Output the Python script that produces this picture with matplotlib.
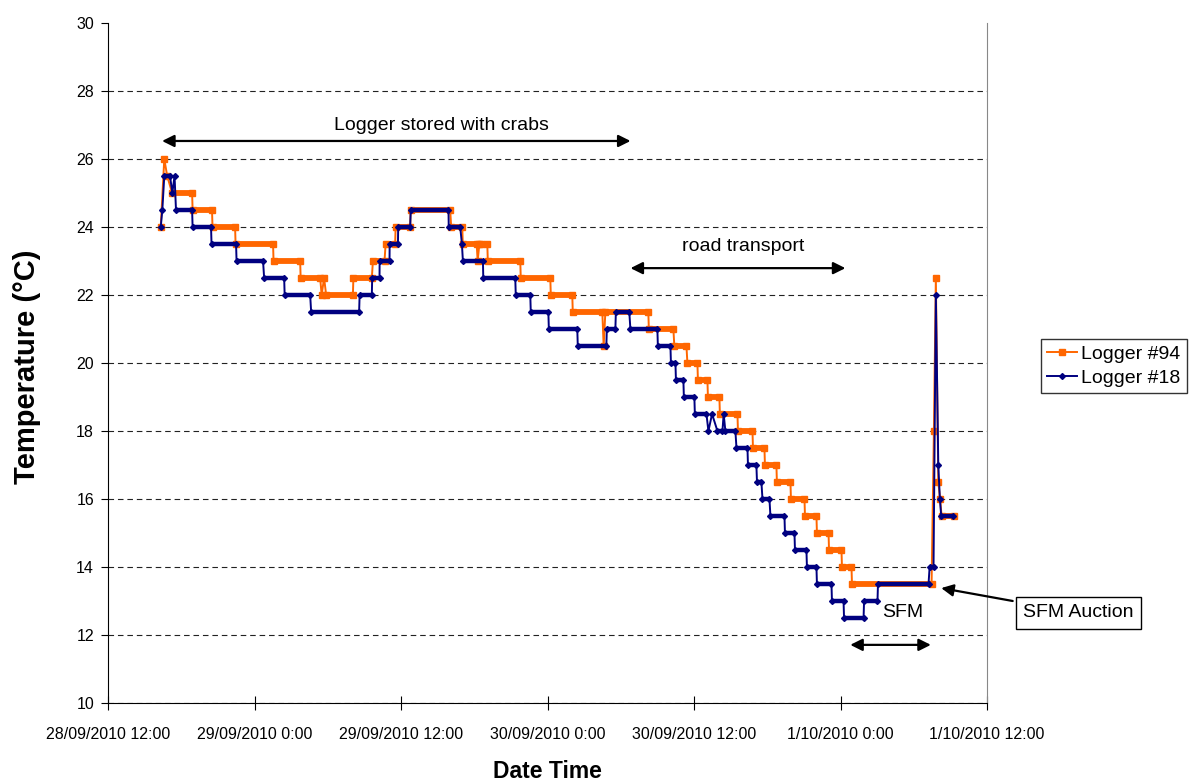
import matplotlib.pyplot as plt

plt.rcParams['font.family'] = ['Liberation Sans', 'DejaVu Sans']

# hours after 28/09/2010 12:00 (start, end, value)
o_start = [4.32, 4.61, 4.85, 5.25, 6.93, 8.56, 10.45, 13.56, 15.78, 17.50, 17.70, 17.87,
           20.10, 21.70, 22.74, 23.56, 24.79, 28.11, 29.06, 30.28, 30.42, 30.56, 31.11,
           33.81, 36.27, 38.07, 40.60, 40.74, 44.30, 46.39, 47.46, 48.32, 49.14, 50.12,
           51.60, 52.83, 53.81, 54.79, 55.94, 57.09, 58.07, 59.06, 60.12, 60.94, 67.65,
           67.81, 68.01, 68.16, 68.28]
o_end = [4.32, 4.61, 4.85, 6.89, 8.52, 10.41, 13.52, 15.74, 17.38, 17.50, 17.70, 20.06,
         21.61, 22.65, 23.52, 24.75, 28.03, 29.02, 30.20, 30.28, 30.42, 31.07, 33.77,
         36.23, 38.03, 40.49, 40.60, 44.26, 46.31, 47.38, 48.28, 49.10, 50.08, 51.56,
         52.79, 53.77, 54.75, 55.90, 57.05, 58.03, 59.02, 60.08, 60.90, 67.46, 67.65,
         67.81, 68.01, 68.16, 69.26]
o_val = [24, 26, 25.5, 25, 24.5, 24, 23.5, 23, 22.5, 22, 22.5, 22, 22.5, 23, 23.5, 24,
         24.5, 24, 23.5, 23, 23.5, 23.5, 23, 22.5, 22, 21.5, 20.5, 21.5, 21, 20.5, 20,
         19.5, 19, 18.5, 18, 17.5, 17, 16.5, 16, 15.5, 15, 14.5, 14, 13.5, 18, 22.5, 16.5,
         16, 15.5]

b_start = [4.32, 4.45, 4.61, 5.27, 5.45, 5.57, 6.93, 8.48, 10.53, 12.79, 14.47, 16.64,
           20.61, 21.64, 22.25, 23.07, 23.77, 24.80, 27.91, 28.99, 29.07, 30.74, 33.40,
           34.63, 36.11, 38.48, 40.86, 41.60, 42.79, 45.04, 46.11, 46.52, 47.17, 48.07,
           49.18, 49.48, 49.92, 50.43, 50.57, 51.48, 52.42, 53.16, 53.61, 54.26, 55.45,
           56.27, 57.25, 58.07, 59.30, 60.29, 61.93, 63.07, 67.30, 67.81, 68.01, 68.14,
           68.25]
b_end = [4.32, 4.45, 5.08, 5.27, 5.45, 6.89, 8.44, 10.49, 12.70, 14.43, 16.56, 20.57,
         21.61, 22.24, 23.06, 23.75, 24.75, 27.89, 28.85, 28.99, 30.71, 33.36, 34.59,
         36.07, 38.44, 40.82, 41.56, 42.70, 45.00, 46.07, 46.48, 47.13, 48.03, 49.02,
         49.18, 49.48, 50.33, 50.43, 51.39, 52.38, 53.11, 53.52, 54.18, 55.41, 56.23,
         57.21, 58.03, 59.26, 60.25, 61.89, 63.03, 67.21, 67.62, 67.81, 68.01, 68.14,
         69.24]
b_val = [24, 24.5, 25.5, 25, 25.5, 24.5, 24, 23.5, 23, 22.5, 22, 21.5, 22, 22.5, 23,
         23.5, 24, 24.5, 24, 23.5, 23, 22.5, 22, 21.5, 21, 20.5, 21, 21.5, 21, 20.5, 20,
         19.5, 19, 18.5, 18, 18.5, 18, 18.5, 18, 17.5, 17, 16.5, 16, 15.5, 15, 14.5, 14,
         13.5, 13, 12.5, 13, 13.5, 14, 22, 17, 16, 15.5]

x_ticks = [0, 12, 24, 36, 48, 60, 72]
x_labels = ['28/09/2010 12:00', '29/09/2010 0:00', '29/09/2010 12:00', '30/09/2010 0:00',
            '30/09/2010 12:00', '1/10/2010 0:00', '1/10/2010 12:00']

orange = '#FF6600'
navy = '#000080'


def path(starts, ends, vals):
    xs, ys = [], []
    for s, e, v in zip(starts, ends, vals):
        xs.append(s)
        ys.append(v)
        if e != s:
            xs.append(e)
            ys.append(v)
    return xs, ys


fig = plt.figure(figsize=(11.92, 7.83), dpi=100)
ax = fig.add_axes([108 / 1192, 1 - 703 / 783, 879 / 1192, 680 / 783])

ox, oy = path(o_start, o_end, o_val)
bx, by = path(b_start, b_end, b_val)

ax.hlines(o_val, o_start, o_end, color=orange, lw=4.2, zorder=2)
l1, = ax.plot(ox, oy, color=orange, lw=1.4, marker='s', ms=3.8, zorder=2, label='Logger #94')
ax.hlines(b_val, b_start, b_end, color=navy, lw=3.2, zorder=3)
l2, = ax.plot(bx, by, color=navy, lw=1.4, marker='D', ms=3, zorder=3, label='Logger #18')

ax.set_xlim(0, 72)
ax.set_ylim(10, 30)
ax.set_xticks(x_ticks)
ax.set_xticklabels(x_labels)
ax.set_yticks(range(10, 31, 2))
ax.tick_params(axis='x', direction='inout', length=10, labelsize=11.5, pad=12)
ax.tick_params(axis='y', direction='out', length=5, labelsize=11.5, pad=5)

ax.grid(axis='y', color='#222222', linestyle=(0, (5, 3.5)), lw=0.8)
ax.get_ygridlines()[-1].set_visible(False)
ax.spines['left'].set_color('black')
ax.spines['bottom'].set_color('black')
ax.spines['top'].set_visible(False)
ax.spines['right'].set_color('#888888')

fig.text(27 / 1192, 1 - 367 / 783, 'Temperature (°C)', rotation=90, ha='center',
         va='center', fontsize=21, fontweight='bold')
fig.text(547.5 / 1192, 1 - 772 / 783, 'Date Time', ha='center', va='center',
         fontsize=16.5, fontweight='bold')

arrow = dict(arrowstyle='<|-|>', color='black', lw=1.6, mutation_scale=18,
             shrinkA=0, shrinkB=0)
ax.annotate('', xy=(4.43, 26.53), xytext=(42.8, 26.53), arrowprops=arrow)
ax.text(27.3, 27.0, 'Logger stored with crabs', ha='center', va='center', fontsize=14)
ax.annotate('', xy=(42.8, 22.79), xytext=(60.4, 22.79), arrowprops=arrow)
ax.text(52.05, 23.44, 'road transport', ha='center', va='center', fontsize=14)
ax.annotate('', xy=(60.8, 11.71), xytext=(67.4, 11.71), arrowprops=arrow)
ax.text(65.1, 12.65, 'SFM', ha='center', va='center', fontsize=14)

ax.annotate('SFM Auction', xy=(68.25, 13.38), xytext=(79.5, 12.65), ha='center',
            va='center', fontsize=14, annotation_clip=False,
            bbox=dict(boxstyle='square,pad=0.38', fc='white', ec='black', lw=1),
            arrowprops=dict(arrowstyle='-|>', color='black', lw=1.6, mutation_scale=18,
                            shrinkB=0))

fig.legend(handles=[l1, l2], loc='center', bbox_to_anchor=(1114 / 1192, 1 - 366 / 783),
           fontsize=14, frameon=True, fancybox=False, edgecolor='black',
           handlelength=1.5, handletextpad=0.25, borderpad=0.35, labelspacing=0.3,
           borderaxespad=0)

fig.savefig('out.png', dpi=100)
